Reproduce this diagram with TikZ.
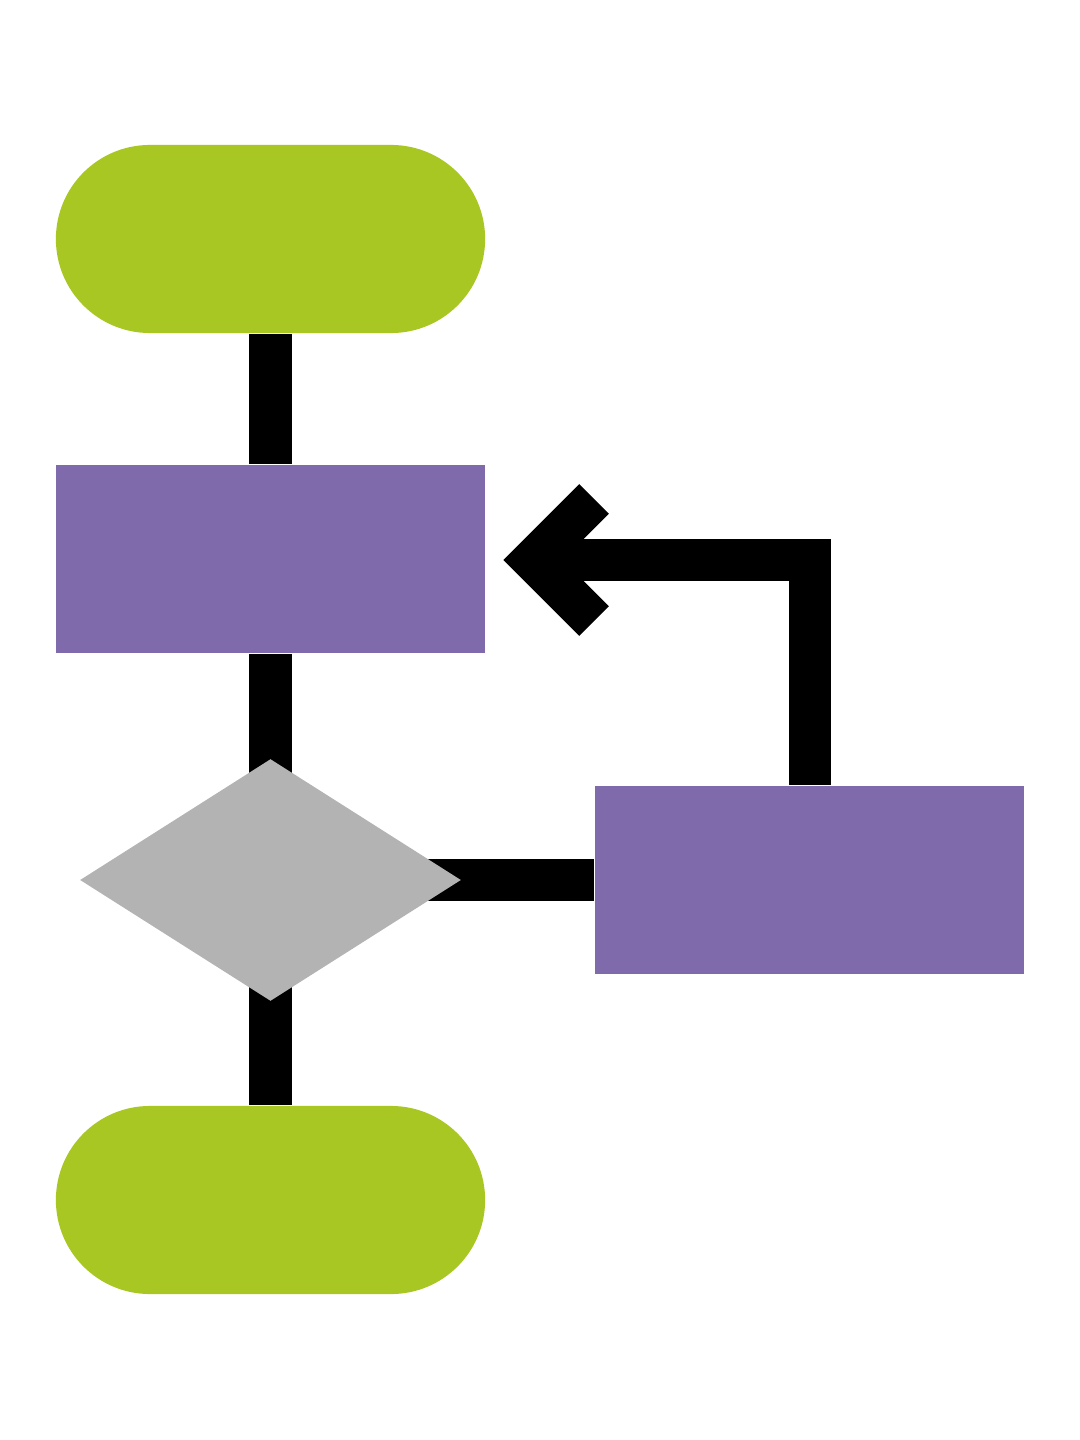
\documentclass[tikz,border=0pt]{standalone}
\usetikzlibrary{shapes.geometric,backgrounds,calc}
\definecolor{lime}{HTML}{A8C723}
\definecolor{purp}{HTML}{7F6AAB}
\definecolor{grey}{HTML}{B3B3B3}
\begin{document}
\begin{tikzpicture}[x=0.01cm,y=-0.01cm,
  term/.style={fill=lime,minimum width=4.29cm,minimum height=1.88cm,rounded corners=0.94cm,inner sep=0},
  proc/.style={fill=purp,minimum width=4.29cm,minimum height=1.88cm,inner sep=0},
  dec/.style={diamond,fill=grey,minimum width=3.81cm,minimum height=2.42cm,inner sep=0},
  conn/.style={line width=0.42cm,black}]
\useasboundingbox (0,0) rectangle (1080,1440);
\node[term] (t1) at (270.5,239) {};
\node[proc] (r1) at (270.5,559) {};
\node[dec] (d) at (270.5,880) {};
\node[proc] (r2) at (809.5,880) {};
\node[term] (t2) at (270.5,1200) {};
\coordinate (tip) at (533,560);
\begin{pgfonlayer}{background}
\draw[conn] (t1) -- (r1);
\draw[conn] (r1) -- (d.center);
\draw[conn] (d.center) -- (t2);
\draw[conn] (d.center) -- (r2);
\draw[conn,line join=miter] (r2.north) |- (tip);
\draw[conn,line join=miter] ($(tip)+(61,-61)$) -- (tip) -- ($(tip)+(61,61)$);
\end{pgfonlayer}
\end{tikzpicture}
\end{document}
